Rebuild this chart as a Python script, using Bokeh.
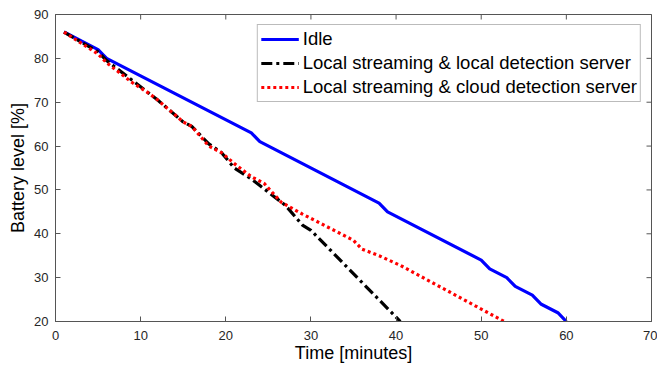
import math
from bokeh.plotting import figure
from bokeh.models import Range1d, FixedTicker, Legend, LegendItem
from bokeh.embed import file_html
from bokeh.resources import INLINE

# Data
idle_t = [1, 5, 6, 23, 24, 38, 39, 50, 51, 53, 54, 56, 57, 59, 60]
idle_b = [86, 82, 80, 63, 61, 47, 45, 34, 32, 30, 28, 26, 24, 22, 20]

local_t = [1, 5, 6, 9, 11, 12, 13.5, 15, 16, 18, 19.5, 21, 23, 24, 25, 27, 29, 30, 40.5]
local_b = [86, 81.5, 79.5, 75, 72, 70.5, 68, 65.5, 64.5, 60.5, 58.5, 55, 52.5, 51, 49.5, 46.5, 42, 40.8, 20]

cloud_t = [1, 5, 6, 9, 11, 12, 13.5, 15, 16, 18, 19.5, 21, 23, 24.5, 26.5, 29, 32, 35, 36, 38, 40.5, 52.7]
cloud_b = [86, 81, 79, 74.5, 72, 70.5, 68, 65.5, 64.5, 60, 58.5, 56, 53, 51.5, 47.2, 44.5, 41.5, 38.5, 36.5, 35, 32.8, 20]

labels = ["Idle",
          "Local streaming & local detection server",
          "Local streaming & cloud detection server"]
x_ticks = [0, 10, 20, 30, 40, 50, 60, 70]
y_ticks = [20, 30, 40, 50, 60, 70, 80, 90]

FONT = "Liberation Sans"
AX = "#555555"
TXT = "#262626"

p = figure(width=657, height=366, output_backend="svg", toolbar_location=None,
           x_range=Range1d(x_ticks[0], x_ticks[-1]), y_range=Range1d(y_ticks[0], y_ticks[-1]),
           min_border_left=55, min_border_right=6, min_border_top=14, min_border_bottom=45)
p.grid.visible = False
p.outline_line_color = AX
p.outline_line_width = 1
p.background_fill_color = "white"

for ax in (p.xaxis[0], p.yaxis[0]):
    ax.major_tick_in = 5
    ax.major_tick_out = 0
    ax.minor_tick_in = 0
    ax.minor_tick_out = 0
    ax.axis_line_color = AX
    ax.major_tick_line_color = AX
    ax.major_label_text_color = TXT
    ax.major_label_text_font = FONT
    ax.major_label_text_font_size = "13px"
    ax.axis_label_text_font = FONT
    ax.axis_label_text_font_size = "18px"
    ax.axis_label_text_font_style = "normal"
    ax.axis_label_text_color = "black"

p.xaxis.ticker = FixedTicker(ticks=x_ticks)
p.yaxis.ticker = FixedTicker(ticks=y_ticks)
p.xaxis.axis_label = "Time [minutes]"
p.yaxis.axis_label = "Battery level [%]"
p.xaxis.major_label_standoff = 9
p.yaxis.major_label_standoff = 7
p.xaxis.axis_label_standoff = 0
p.yaxis.axis_label_standoff = 3

# inward tick marks on the top and right edges of the box (clipped to the frame)
p.scatter(x_ticks, [y_ticks[-1]] * len(x_ticks), marker="dash", size=10,
          angle=math.pi / 2, line_color=AX, line_width=1)
p.scatter([x_ticks[-1]] * len(y_ticks), y_ticks, marker="dash", size=10,
          line_color=AX, line_width=1)

r1 = p.line(idle_t, idle_b, line_color="#0000ff", line_width=3.2)
r2 = p.line(local_t, local_b, line_color="black", line_width=3.2, line_dash="11 4 3 4")
r3 = p.line(cloud_t, cloud_b, line_color="#ff0000", line_width=3.2, line_dash="3 3")

legend = Legend(items=[LegendItem(label=labels[0], renderers=[r1]),
                       LegendItem(label=labels[1], renderers=[r2]),
                       LegendItem(label=labels[2], renderers=[r3])],
                location="top_right")
legend.margin = 10
legend.padding = 3
legend.spacing = 2
legend.glyph_width = 38
legend.glyph_height = 22
legend.label_height = 22
legend.label_standoff = 4
legend.label_text_font = FONT
legend.label_text_font_size = "18.5px"
legend.label_text_color = "black"
legend.border_line_color = "#777777"
legend.border_line_width = 1
legend.background_fill_color = "white"
legend.background_fill_alpha = 1
p.add_layout(legend, "center")

open("out.html", "w").write(file_html(p, INLINE))
